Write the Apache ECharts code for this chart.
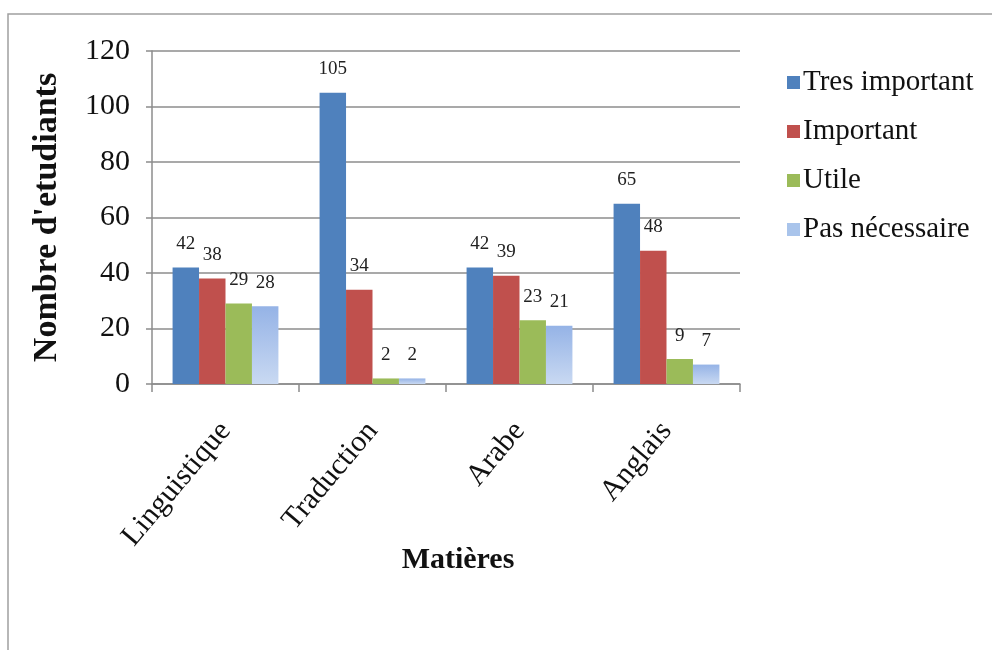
<!DOCTYPE html>
<html><head><meta charset="utf-8">
<script src="https://cdn.jsdelivr.net/npm/echarts@6/dist/echarts.min.js"></script>
<style>html,body{margin:0;padding:0;background:#fff}#c{width:992px;height:650px}</style>
</head><body><div id="c"></div>
<script>
const categories = ['Linguistique', 'Traduction', 'Arabe', 'Anglais'];
const seriesNames = ['Tres important', 'Important', 'Utile', 'Pas nécessaire'];
const tresImportant = [42, 105, 42, 65];
const important = [38, 34, 39, 48];
const utile = [29, 2, 23, 9];
const pasNecessaire = [28, 2, 21, 7];
const yTicks = [0, 20, 40, 60, 80, 100, 120];

const serif = '"Liberation Serif", "DejaVu Serif", serif';
const colors = ['#4F81BD', '#C0504D', '#9BBB59',
  new echarts.graphic.LinearGradient(0, 0, 0, 1, [{offset: 0, color: '#95B3E6'}, {offset: 1, color: '#C9D9F2'}])];
const values = [tresImportant, important, utile, pasNecessaire];

const chart = echarts.init(document.getElementById('c'));
chart.setOption({
  animation: false,
  backgroundColor: '#fff',
  graphic: [{type: 'rect', shape: {x: 8, y: 14, width: 1000, height: 700}, style: {fill: 'none', stroke: '#a0a0a0', lineWidth: 1.5}}],
  grid: {left: 152, top: 51, width: 588, height: 333},
  legend: {
    orient: 'vertical', left: 782, top: 63, itemGap: 20, itemWidth: 13, itemHeight: 13,
    icon: 'rect',
    textStyle: {fontFamily: serif, fontSize: 29, color: '#111', padding: [0, 0, 0, -2]},
    data: seriesNames.map((n, i) => ({name: n, itemStyle: {color: i === 3 ? '#A9C4EB' : colors[i]}}))
  },
  xAxis: {
    type: 'category', data: categories,
    name: 'Matières', nameLocation: 'middle', nameGap: 161, nameMoveOverlap: false,
    nameTextStyle: {fontFamily: serif, fontSize: 30, fontWeight: 'bold', color: '#111', padding: [0, 0, 0, 24]},
    axisLine: {lineStyle: {color: '#8c8c8c', width: 1.5}},
    axisTick: {show: true, length: 8, lineStyle: {color: '#8c8c8c', width: 1.5}},
    axisLabel: {rotate: 50, fontFamily: serif, fontSize: 30, color: '#111', margin: 42}
  },
  yAxis: {
    type: 'value', min: 0, max: 120, interval: 20,
    name: "Nombre d'etudiants", nameLocation: 'middle', nameGap: 88, nameMoveOverlap: false,
    nameTextStyle: {fontFamily: serif, fontSize: 34, fontWeight: 'bold', color: '#111'},
    axisLine: {show: true, lineStyle: {color: '#8c8c8c', width: 1.5}},
    axisTick: {show: true, length: 6, lineStyle: {color: '#8c8c8c', width: 1.5}},
    axisLabel: {fontFamily: serif, fontSize: 30, color: '#111', margin: 22,
      formatter: v => yTicks.includes(v) ? String(v) : ''},
    splitLine: {lineStyle: {color: '#8c8c8c', width: 1.5}}
  },
  series: values.map((d, i) => ({
    name: seriesNames[i], type: 'bar', data: d,
    barGap: '0%', barCategoryGap: '28%',
    itemStyle: {color: colors[i]},
    label: {show: true, position: 'top', distance: 14,
      fontFamily: serif, fontSize: 19, color: '#222'}
  }))
});
</script></body></html>
